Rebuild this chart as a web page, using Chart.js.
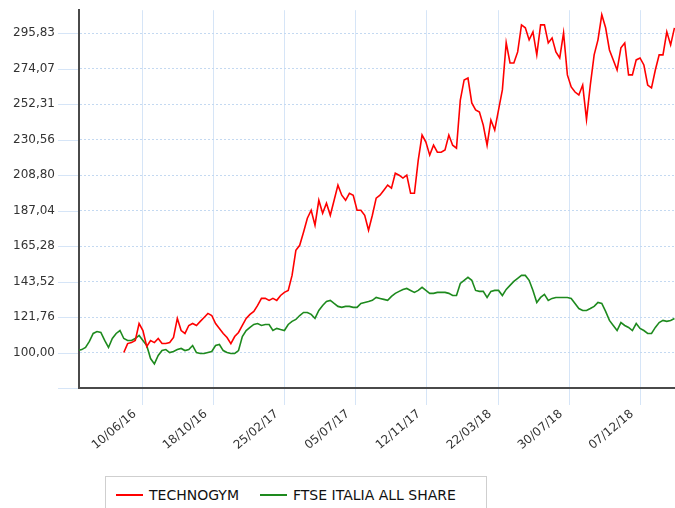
<!DOCTYPE html>
<html><head><meta charset="utf-8">
<script src="https://cdn.jsdelivr.net/npm/chart.js@4.4.0/dist/chart.umd.min.js"></script>
<style>
html,body{margin:0;padding:0;background:#fff;}
#wrap{position:relative;width:675px;height:508px;overflow:hidden;}
#legend{position:absolute;left:105px;top:476px;width:382px;height:44px;border:1px solid #cfcfcf;box-sizing:border-box;font:14px "DejaVu Sans",sans-serif;color:#111;background:#fff;}
.item{position:absolute;top:9px;height:18px;line-height:18px;white-space:nowrap;}
.swatch{display:inline-block;width:27px;height:2px;vertical-align:middle;margin-right:6px;position:relative;top:-1px;}
</style></head>
<body><div id="wrap"><canvas id="c" width="675" height="508"></canvas><div id="legend"></div></div>
<script>
const dates = [
'2016-02-12','2016-02-19','2016-02-26','2016-03-04','2016-03-11','2016-03-18','2016-03-25','2016-04-01','2016-04-08','2016-04-15',
'2016-04-22','2016-04-29','2016-05-06','2016-05-13','2016-05-20','2016-05-27','2016-06-03','2016-06-10','2016-06-17','2016-06-24',
'2016-07-01','2016-07-08','2016-07-15','2016-07-22','2016-07-29','2016-08-05','2016-08-12','2016-08-19','2016-08-26','2016-09-02',
'2016-09-09','2016-09-16','2016-09-23','2016-09-30','2016-10-07','2016-10-14','2016-10-21','2016-10-28','2016-11-04','2016-11-11',
'2016-11-18','2016-11-25','2016-12-02','2016-12-09','2016-12-16','2016-12-23','2016-12-30',
'2017-01-06','2017-01-13','2017-01-20','2017-01-27','2017-02-03','2017-02-10','2017-02-17','2017-02-24','2017-03-03','2017-03-10',
'2017-03-17','2017-03-24','2017-03-31','2017-04-07','2017-04-14','2017-04-21','2017-04-28','2017-05-05','2017-05-12','2017-05-19',
'2017-05-26','2017-06-02','2017-06-09','2017-06-16','2017-06-23','2017-06-30','2017-07-07','2017-07-14','2017-07-21','2017-07-28',
'2017-08-04','2017-08-11','2017-08-18','2017-08-25','2017-09-01','2017-09-08','2017-09-15','2017-09-22','2017-09-29','2017-10-06',
'2017-10-13','2017-10-20','2017-10-27','2017-11-03','2017-11-10','2017-11-17','2017-11-24','2017-12-01','2017-12-08','2017-12-15',
'2017-12-22','2017-12-29',
'2018-01-05','2018-01-12','2018-01-19','2018-01-26','2018-02-02','2018-02-09','2018-02-16','2018-02-23','2018-03-02','2018-03-09',
'2018-03-16','2018-03-23','2018-03-30','2018-04-06','2018-04-13','2018-04-20','2018-04-27','2018-05-04','2018-05-11','2018-05-18',
'2018-05-25','2018-06-01','2018-06-08','2018-06-15','2018-06-22','2018-06-29','2018-07-06','2018-07-13','2018-07-20','2018-07-27',
'2018-08-03','2018-08-10','2018-08-17','2018-08-24','2018-08-31','2018-09-07','2018-09-14','2018-09-21','2018-09-28','2018-10-05',
'2018-10-12','2018-10-19','2018-10-26','2018-11-02','2018-11-09','2018-11-16','2018-11-23','2018-11-30','2018-12-07','2018-12-14',
'2018-12-21','2018-12-28',
'2019-01-04','2019-01-11','2019-01-18','2019-01-25','2019-02-01','2019-02-08'
];
const technogym = [
null,null,null,null,null,null,null,null,null,null,null,null,
100.0,105.5,106.1,107.4,117.8,113.5,103.7,107.4,106.1,108.6,105.5,105.5,106.1,109.2,120.9,113.5,111.7,116.6,
117.8,116.6,119.1,121.5,124.0,122.7,117.8,114.8,111.7,109.2,105.5,109.8,112.3,116.6,120.9,123.4,125.2,128.9,
133.2,133.2,132.0,133.2,132.0,135.0,136.9,138.1,147.3,162.7,165.8,173.8,182.4,187.3,178.1,193.4,185.4,191.6,
184.2,193.4,202.7,196.5,193.4,197.7,196.5,187.3,187.3,184.2,175.0,184.2,194.7,196.5,199.6,202.7,200.8,210.0,
208.8,207.0,208.8,197.7,197.7,218.0,233.4,229.1,221.1,227.2,222.9,222.9,224.2,233.4,227.2,225.4,254.9,267.2,
268.4,253.1,248.8,247.5,239.5,227.2,242.6,236.5,248.8,261.1,290.0,277.6,277.6,284.4,301.0,299.2,291.8,296.7,
282.6,301.0,301.0,289.9,293.0,284.4,280.7,296.1,270.3,262.9,259.8,258.0,264.1,243.0,264.1,282.6,291.8,307.2,
299.2,285.6,279.5,273.3,286.9,289.9,270.3,270.3,279.5,280.7,276.4,264.1,262.3,273.3,282.6,282.6,296.7,288.7,299.2
];
const ftseItalia = [
101.2,101.8,103.1,106.8,111.7,112.9,112.3,107.4,103.1,108.6,111.7,113.5,108.6,107.4,107.4,108.6,110.5,107.4,104.3,96.3,
93.0,98.2,101.2,101.8,100.0,100.6,101.8,102.5,101.2,101.8,104.3,100.0,99.4,99.4,100.0,100.6,104.3,104.9,101.2,100.0,
99.4,99.4,101.2,109.8,113.5,115.4,117.2,117.8,116.6,117.2,117.2,113.5,114.8,114.1,113.5,117.2,119.1,120.3,122.7,124.6,
124.6,123.4,120.9,125.8,128.9,131.3,132.0,130.1,128.3,127.7,128.3,128.3,127.7,127.7,130.1,130.7,131.3,132.0,133.8,133.2,
132.6,132.0,134.4,136.3,137.5,138.7,139.3,138.1,136.9,138.1,140.0,138.1,136.3,136.3,136.9,136.9,136.9,136.3,135.0,135.0,
142.4,144.3,146.1,144.3,138.1,137.5,137.5,133.8,137.5,138.1,138.1,135.0,138.7,141.2,143.6,145.5,147.3,147.3,144.3,138.1,
130.7,133.8,135.7,132.0,133.2,133.8,133.8,133.8,133.8,133.2,130.1,127.0,125.8,125.8,127.0,128.3,130.7,130.1,125.2,119.7,
116.6,113.5,118.4,116.6,115.4,113.5,117.8,114.8,113.5,111.7,111.7,115.4,118.4,119.7,119.1,119.7,120.9
];
const seriesNames = ['TECHNOGYM','FTSE ITALIA ALL SHARE'];
const seriesColors = ['#ff0000','#1e8a1e'];
const xTickDates = ['2016-06-10','2016-10-18','2017-02-25','2017-07-05','2017-11-12','2018-03-22','2018-07-30','2018-12-07'];
const yTickValues = [78.24,100.00,121.76,143.52,165.28,187.04,208.80,230.56,252.31,274.07,295.83];
const xRange = ['2016-02-14','2019-02-09'];
const yRange = [78.24, 310];

const toMs = s => { const [y,m,d] = s.split('-').map(Number); return Date.UTC(y,m-1,d); };
const fmtDate = ms => { const d = new Date(ms); const p = n => String(n).padStart(2,'0');
  return p(d.getUTCDate())+'/'+p(d.getUTCMonth()+1)+'/'+String(d.getUTCFullYear()).slice(2); };
const mk = arr => dates.map((d,i)=>({x: toMs(d), y: arr[i]}));

const gridBlue = '#d6e5f7';
const dotBlue = '#c4d9f1';

// solid tick marks left of the y axis, placed through the y scale
const yTickMarks = {
  id: 'yTickMarks',
  afterDraw(chart) {
    const {ctx, scales: {y}, chartArea} = chart;
    ctx.save();
    ctx.strokeStyle = gridBlue; ctx.lineWidth = 1; ctx.setLineDash([]);
    y.ticks.forEach(t => {
      const py = Math.round(y.getPixelForValue(t.value)) + 0.5;
      ctx.beginPath(); ctx.moveTo(chartArea.left - 21, py); ctx.lineTo(chartArea.left - 1, py); ctx.stroke();
    });
    ctx.restore();
  }
};

const chart = new Chart(document.getElementById('c'), {
  type: 'line',
  data: { datasets: [
    {label: seriesNames[0], data: mk(technogym), borderColor: seriesColors[0], backgroundColor: seriesColors[0], borderWidth: 1.6, pointRadius: 0, tension: 0, spanGaps: false},
    {label: seriesNames[1], data: mk(ftseItalia), borderColor: seriesColors[1], backgroundColor: seriesColors[1], borderWidth: 1.6, pointRadius: 0, tension: 0}
  ]},
  plugins: [yTickMarks],
  options: {
    responsive: false, animation: false, devicePixelRatio: 1,
    layout: {padding: {top: 10, right: 0, left: 0, bottom: 0}},
    plugins: {legend: {display: false}, tooltip: {enabled: false}},
    scales: {
      x: {
        type: 'linear', min: toMs(xRange[0]), max: toMs(xRange[1]),
        afterBuildTicks: s => { s.ticks = xTickDates.map(d => ({value: toMs(d)})); },
        afterFit: s => { s.height = 120; },
        grid: {color: gridBlue, lineWidth: 1, drawTicks: true, tickLength: 17, tickColor: gridBlue},
        border: {display: true, color: '#4a4a4a', width: 2},
        ticks: {autoSkip: false, minRotation: 40, maxRotation: 40, padding: 2, labelOffset: -8, color: '#333',
          font: {family: 'DejaVu Sans', size: 12}, callback: v => fmtDate(v)}
      },
      y: {
        min: yRange[0], max: yRange[1],
        afterBuildTicks: s => { s.ticks = yTickValues.map(v => ({value: v})); },
        afterFit: s => { s.width = 79; },
        grid: {color: dotBlue, lineWidth: 1, drawTicks: true, tickLength: 21, tickColor: 'rgba(0,0,0,0)'},
        border: {display: true, color: '#4a4a4a', width: 2, dash: [2, 2]},
        ticks: {padding: 3, color: '#333', font: {family: 'DejaVu Sans', size: 12},
          callback: (v, i) => i === 0 ? '' : v.toFixed(2).replace('.', ',')}
      }
    }
  }
});

const leg = document.getElementById('legend');
const lefts = [10, 154];
chart.data.datasets.forEach((ds, i) => {
  const it = document.createElement('div');
  it.className = 'item'; it.style.left = lefts[i] + 'px';
  const sw = document.createElement('span'); sw.className = 'swatch'; sw.style.background = ds.borderColor;
  it.appendChild(sw); it.appendChild(document.createTextNode(ds.label));
  leg.appendChild(it);
});
</script>
</body></html>
